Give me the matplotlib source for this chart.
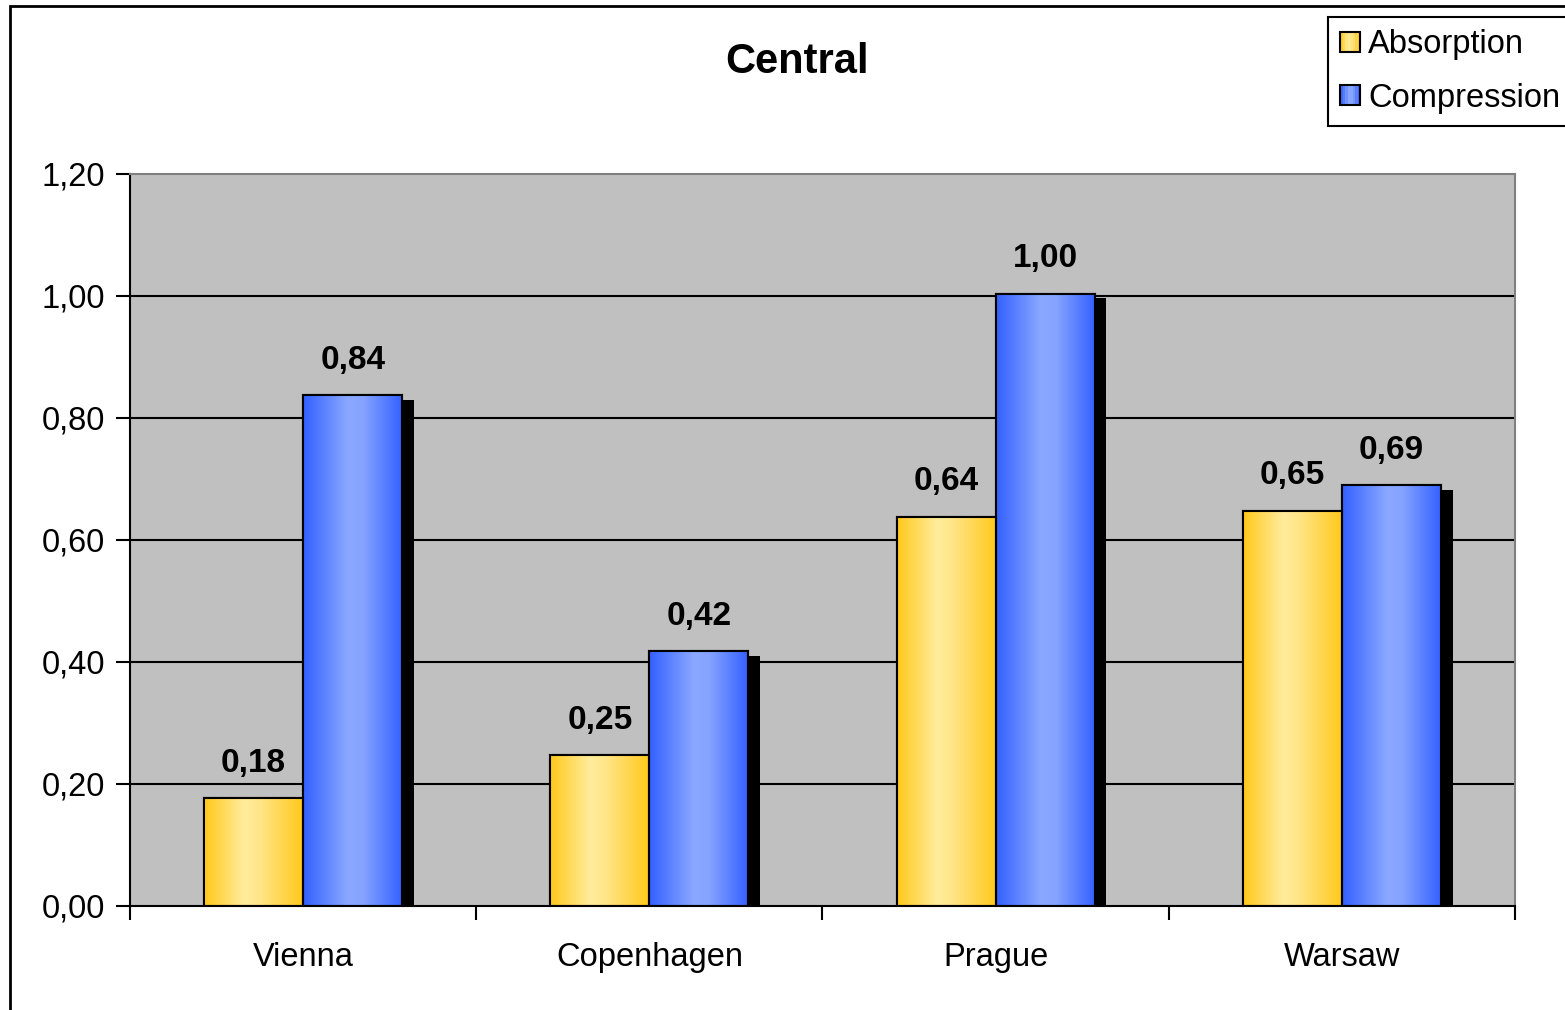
import matplotlib
matplotlib.use('Agg')

import matplotlib.pyplot as plt
import matplotlib.patheffects as pe
import numpy as np
from matplotlib.colors import LinearSegmentedColormap
from matplotlib.patches import Rectangle
from matplotlib.legend_handler import HandlerBase

# data
cities = ['Vienna', 'Copenhagen', 'Prague', 'Warsaw']
absorption = [0.177, 0.247, 0.638, 0.648]
compression = [0.837, 0.418, 1.004, 0.690]
series_names = ['Absorption', 'Compression']
yticks = [0.0, 0.2, 0.4, 0.6, 0.8, 1.0, 1.2]

plt.rcParams['font.family'] = ['Liberation Sans', 'DejaVu Sans']

yellow = LinearSegmentedColormap.from_list(
    'yel', [(0, '#FFC81A'), (0.4, '#FFEC9C'), (0.55, '#FFE68A'), (1, '#FFC81A')])
blue = LinearSegmentedColormap.from_list(
    'blu', [(0, '#3360FF'), (0.45, '#8AA8FF'), (0.6, '#86A4FF'), (1, '#3360FF')])
ramp = np.linspace(0, 1, 256).reshape(1, -1)

fig = plt.figure(figsize=(15.65, 10.1), dpi=100)
ax = fig.add_axes([130 / 1565, 1 - 906 / 1010, 1385 / 1565, 732 / 1010])
ax.set_facecolor('#C0C0C0')

x = np.arange(len(cities))
w = 0.286
shadow = [pe.SimplePatchShadow(offset=(8.5, -3.5), shadow_rgbFace='black', alpha=1.0),
          pe.Normal()]


def draw_series(xpos, vals, cmap):
    bars = ax.bar(xpos, vals, w, color=cmap(0.5), edgecolor='black',
                  linewidth=1.5, zorder=3, path_effects=shadow)
    for b in bars:
        im = ax.imshow(ramp, cmap=cmap, aspect='auto', zorder=3.1,
                       extent=[b.get_x(), b.get_x() + b.get_width(), 0, b.get_height()])
        im.set_clip_path(b)
        ax.add_patch(Rectangle((b.get_x(), 0), b.get_width(), b.get_height(),
                               fill=False, edgecolor='black', linewidth=1.5, zorder=3.2))
    for xi, v in zip(xpos, vals):
        ax.annotate(f'{v:.2f}'.replace('.', ','), (xi, v), xytext=(0, 19),
                    textcoords='offset points', ha='center', va='baseline',
                    fontsize=24, fontweight='bold', zorder=5)


draw_series(x - w / 2, absorption, yellow)
draw_series(x + w / 2, compression, blue)

ax.set_xlim(-0.5, len(cities) - 0.5)
ax.set_ylim(0, 1.2)
ax.set_yticks(yticks)
ax.set_yticklabels([f'{t:.2f}'.replace('.', ',') for t in yticks])
ax.set_xticks(x)
ax.set_xticklabels(cities)
ax.set_xticks(np.arange(len(cities) + 1) - 0.5, minor=True)
ax.tick_params(axis='x', which='major', length=0, pad=26, labelsize=23.5)
ax.tick_params(axis='x', which='minor', length=10, width=1.5, direction='out')
ax.tick_params(axis='y', length=10, width=1.5, pad=8, labelsize=23.5)
for t in yticks[1:-1]:
    ax.axhline(t, color='black', linewidth=1.5, zorder=1)
for s in ['top', 'right']:
    ax.spines[s].set_color('#808080')
    ax.spines[s].set_linewidth(1.5)
for s in ['left', 'bottom']:
    ax.spines[s].set_color('black')
    ax.spines[s].set_linewidth(1.5)
ax.spines['bottom'].set_zorder(6)

fig.text(797 / 1565, 1 - 62 / 1010, 'Central', ha='center', va='center',
         fontsize=30, fontweight='bold')

# outer chart frame (partly cut off by the picture edges)
fig.patches.append(Rectangle((10 / 1565, -0.1), 1.2, 1.1 - 6 / 1010, fill=False,
                             edgecolor='black', linewidth=2, transform=fig.transFigure))


class GradientHandler(HandlerBase):
    def __init__(self, cmap):
        super().__init__()
        self.cmap = cmap

    def create_artists(self, legend, orig_handle, xdescent, ydescent, width, height,
                       fontsize, trans):
        arts = []
        n = 8
        for i in range(n):
            arts.append(Rectangle((-xdescent + width * i / n, -ydescent), width / n, height,
                                  facecolor=self.cmap((i + 0.5) / n), edgecolor='none',
                                  transform=trans))
        arts.append(Rectangle((-xdescent, -ydescent), width, height, fill=False,
                              edgecolor='black', linewidth=1.5, transform=trans))
        return arts


h1 = Rectangle((0, 0), 1, 1)
h2 = Rectangle((0, 0), 1, 1)
leg = fig.legend([h1, h2], series_names, loc='upper left',
                 bbox_to_anchor=(1328 / 1565, 1 - 17 / 1010), fontsize=23.5,
                 handler_map={h1: GradientHandler(yellow), h2: GradientHandler(blue)},
                 handlelength=0.6, handleheight=0.6, handletextpad=0.25,
                 labelspacing=0.68, borderpad=0.38, borderaxespad=0, fancybox=False,
                 framealpha=1, edgecolor='black')
leg.get_frame().set_linewidth(1.5)

plt.savefig('out.png')
plt.close()
